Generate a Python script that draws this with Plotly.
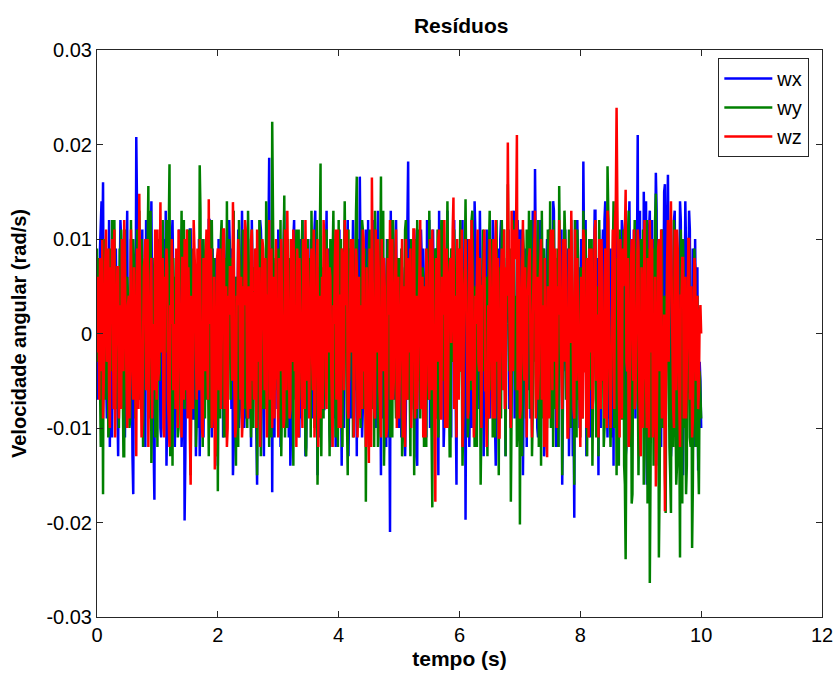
import plotly.graph_objects as go

# sampling interval (s) of the main residual samples; the *_mid lists are
# the samples lying halfway between them
dt = 0.025

# residuals in 1e-3 rad/s
wx_milli = [
    -7, 3, 9, 14, 16, 2, -4, 6, 12, -2, -11, -8, 5, -1, -13, 4, 10, 7, -6, 1,
    13, -5, -9, -12, -17, 4, 20.8, 6, -3, 8, 11, -6, -12, 2, 8, 10, 14, -9, -17.6, -3,
    6, 9, -10, 1, 10, -4, -14, -7, 3, 7, 12, -2, -8, 5, 9, 3, -12, -6, -19.8, -1,
    7, 2, 11, -3, -9, 6, 4, -10, -13, 0, 10, 5, -5, 8, 12, -7, -11, 3, 8, -4,
    -14, -2, 5, 9, 11, -1, -7, 4, 9, -8, -15, -5, 6, 2, -10, 7, 13, 1, -4, -9,
    10, 3, -12, 6, 7, -3, -16, -2, 12, 8, -6, 2, 9, 11, 18.6, -4, -16.8, -7, 5, 9,
    11, -2, -9, 4, 13, 6, -7, -11, -14, 1, 10, 3, 4, -6, -11, 5, 12, -4, -13, -3,
    8, 1, -5, 7, 11, -2, -15, -4, 9, 5, -8, -1, 13, 3, -10, 2, 6, -9, -12, 4,
    10, -3, -14, 0, 4, 9, 12, -6, -9, 2, 7, -5, -13, 8, 16.6, 1, -8, 6, 11, -4,
    -12, 3, 9, -1, -6, 7, 13, -8, -15, 2, 8, 4, 10, -11, -21, -3, 5, 6, 12, -2,
    -10, 1, 7, -4, -13, 5, 18.2, 3, -8, -2, 11, 6, -14, -5, 6, 8, 9, -7, -11, 2,
    12, 4, -7, 1, 8, -9, -15, -3, 11, 5, -9, 2, 13, -2, -6, 9, 10, -8, -16, -1,
    7, 5, 12, -6, -19.7, 0, 9, -3, -10, 4, 14, 7, -8, -1, 6, -7, -13, 3, 11, -2,
    -9, 2, 12, -5, -14, 6, 8, 10, 10, -4, -12, 1, 5, -8, -10, 4, 13, -3, -7, 8,
    11, -2, -15, 3, 9, 6, -6, -9, 12, 4, 17.4, -3, -11, 1, 8, -7, -13, 5, 10, 2,
    -8, 4, 14, -1, -12, -5, 7, 3, -16, 6, 11, 2, 9, -6, -10, -13, -19.5, 5, 12, 7,
    -7, 9, 18.2, -2, -13, 4, 10, -6, -9, 3, 13, 8, -15, -4, 8, 11, 12, -3, -11, 5,
    9, -4, -14, 7, 15, 2, -8, 6, 11, -5, -13, 10, 14, 3, -10, 4, 7, 12, 21, -1,
    -12, 6, 15, -3, -16, 8, 13, 5, -9, 10, 17, -2, -14, 7, 11, 2, 15.8, 9, 16.8, -5,
    -13, 3, 12, -4, -10, 8, 14, -6, -15, 1, 9, 5, 13, -8, -12, 4, 10, -7, -14.5, -3,
    -10,
]
wx_mid_milli = [
    4, -6, 11, 8, -3, 10, -9, 1, -12, 6, 3, -7, 9, -10, 2, 12, -5, 7, -11, 5,
    -8, 2, 10, -13, 6, -4, 9, 11, -7, 3, -10, 5, 12, -2, -9, 7, 1, -12, 8, -6,
    9, -3, -11, 6, 2, 13, -8, 4, -6, 10, -1, -12, 7, -4, 11, 3, -9, 5, -13, 8,
    -5, 11, 1, -9, 7, -13, 4, 10, -2, 6, -11, 8, 3, -7, 12, -4, 9, -10, 2, 6,
    10, -7, 4, -11, 8, 2, -6, 12, -3, 9, -12, 5, -1, 11, -8, 3, 7, -10, 6, -4,
    -9, 6, 12, -3, 1, -10, 8, -5, 11, 4, -13, 7, -2, 10, -6, 9, 3, -11, 5, -8,
    7, -12, 3, 9, -5, 11, -1, 6, -10, 2, 12, -7, 5, -3, 10, -9, 1, 8, -12, 4,
    -6, 10, -9, 2, 13, -4, 7, -11, 5, 1, -8, 11, -3, 9, -12, 6, -2, 10, -7, 3,
    11, -4, 8, -10, 2, 6, -13, 9, -1, 12, -6, 3, 10, -8, 5, -11, 7, 1, -9, 12,
    -3, 9, -7, 12, -10, 4, 6, -2, 11, -9, 3, -12, 8, -5, 13, -1, -7, 10, 2, -6,
    8, -11, 5, 1, -8, 12, -4, 10, -6, 3, 9, -13, 7, -1, 11, -5, 4, -9, 12, -3,
    -10, 3, 11, -6, 9, -2, 13, -8, 4, -12, 6, 10, -4, 8, -11, 2, 12, -7, 5, 9,
    -4, 12, -9, 7, -1, 10, -12, 3, 8, -5, 11, -7, 2, 13, -10, 6, -3, 9, -8, 4,
    6, -2, 10, -11, 4, 9, -7, 12, -3, 8, -13, 5, 11, -6, 1, 10, -9, 3, 12, -5,
    -7, 11, -4, 6, -12, 3, 10, -8, 13, -2, 7, -10, 4, 12, -5, 9, -11, 6, -1, 11,
    5, -9, 13, -3, 8, -12, 2, 11, -6, 10, -4, 7, -13, 9, 1, -8, 12, -2, 6, -10,
    10, -5, 3, 12, -8, 6, -11, 9, -2, 13, -7, 4, 11, -10, 8, -3, 14, -6, 2, -9,
    -11, 7, 13, -4, 10, -8, 5, 12, -1, 9, -12, 6, 14, -7, 3, 11, -9, 8, -5, 13,
    4, -10, 9, 14, -6, 11, -3, 12, -9, 7, 13, -5, 10, -12, 6, 15, -8, 11, -4, 9,
    -11, 6, 13, -7, 9, -3, 12, -10, 5, 14, -8, 3, 11, -6, 9, -12, 4, 7, -9, -5,
]

wy_milli = [
    9, 2, -5, -10, -17, -3, 7, 4, -10, 6, 12, -1, -8, 3, 4, 9, 11, -6, -13, 0,
    6, -4, -9, 3, 10, 5, -6, -2, 13, -7, -11, 1, 5, 9, 15.6, -3, -13.7, 2, 8, -5,
    -12, 4, 10, 1, -7, 6, 12, 9, 17.9, -4, -14, 2, 6, -6, -10, 5, 13, 3, -8, -2,
    11, -5, -15, 1, 7, 4, -9, 8, 17.8, -3, -12, 6, 8, -7, -13, 2, 12, -1, -5, -11,
    -16.7, -4, 10, 3, -11, 5, 14, -2, -7, 8, 9, -6, -14, 1, 12, 4, -9, -3, 6, -8,
    13, 2, -11, 4, 7, -5, -15, -1, 10, 6, -8, 3, 14, -4, -12, 9, 22.4, 1, -6, 5,
    9, -3, -13, 6, 14.6, 2, -10, -4, 8, 5, -14, -2, 11, 3, -7, 7, 12, -5, -12, 1,
    6, 8, 13, -2, -10, -6, -16, 3, 18, 4, -9, -1, 11, 6, -13, -4, 8, 2, -11, 5,
    12, -3, -7, 5, 14, 1, -15, -5, 9, 3, -10, 6, 16.6, -2, -6, 7, 11, -8, -17.8, 0,
    10, 4, -8, 2, 13, -4, -12, 5, 16.6, 1, -14, -6, 7, 3, -11, 8, 12, -2, -9, 6,
    8, -1, -13, 4, 11, 7, -7, -3, 10, 2, -15, -5, 12, 6, -9, 1, 6, -4, -12, 3,
    13, -6, -18.4, -2, 9, 4, -11, 3, 12, -5, -8, 6, 14, 1, -13, -3, 7, 5, -10, 2,
    11, -4, -14, 6, 14.2, -1, -9, 3, 12, 7, -12, -6, 8, 2, -16, -3, 10, 4, -7, 5,
    13, -2, -11, 6, 9, 1, -15, -7, 12, 3, -8, 5, 15.8, -4, -17.8, 2, 10, -6, -12, 4,
    -20.2, -5, 11, 3, -9, 7, 13, -1, -13, -4, 7, 2, 12, -6, -14, 4, 9, -3, -10, 6,
    14, 1, -12, -3, 8, 9, 15.6, -2, -15, 4, 10, -6, -9, 5, 12, -4, -16, 2, 11, -7,
    -11, 3, 13, -2, -8, 6, 10, -5, -14, 4, 12, -1, -13, -6, 9, 2, -10, 7, 17.7, -3,
    -12, 4, 14, -6, -15, 1, 11, -3, -9, -14, -23.9, 5, 13, -7, -18, 2, 12, -4, -14, -8,
    10, -5, -16, 3, 12, -11, -26.4, -2, 9, 6, 14.8, -9, -23.7, 4, 11, -7, -15, 1, 8, -12,
    -19, -3, 12, -8, -14, -6, -23.7, 2, 10, -10, -17, 4, 9, -12, -22.7, -5, 6, -9, -13, -4,
    -9,
]
wy_mid_milli = [
    -3, 8, -12, 5, 10, -7, 2, -11, 9, -4, 6, 12, -8, 1, -10, 7, 3, -13, 11, -6,
    4, -10, 12, -2, 7, -9, 11, 3, -6, 10, -12, 5, -1, 9, -8, 13, -4, 6, -11, 2,
    10, -5, 3, 12, -9, 6, -2, 11, -13, 4, 8, -7, 1, -11, 9, 5, -6, 12, -3, 7,
    -8, 11, -4, 9, 2, -12, 7, -6, 13, -1, 10, -9, 5, -3, 12, -10, 4, 8, -13, 6,
    3, -9, 12, -5, 8, -11, 1, 10, -7, 4, 13, -3, 6, -12, 9, -2, 11, -8, 5, -10,
    7, -4, 11, -10, 2, 9, -6, 12, -13, 5, 3, -8, 10, -1, 6, -11, 13, -5, 8, -2,
    -9, 12, -3, 7, -11, 4, 10, -6, 1, -12, 8, 5, -10, 11, -2, 9, -7, 3, -13, 10,
    6, -11, 2, 9, -5, 12, -8, 4, -13, 7, 11, -3, 1, -9, 10, -6, 13, -2, 5, -12,
    -4, 10, -12, 6, 3, -9, 11, -1, 8, -11, 5, 13, -7, 2, -10, 12, -5, 9, -3, 7,
    11, -7, 4, -12, 9, 1, -10, 6, -3, 13, -8, 2, 10, -6, 12, -11, 3, -4, 8, -9,
    -2, 9, -11, 5, 12, -6, 3, -13, 8, -1, 10, -9, 6, 11, -4, 7, -12, 2, 9, -7,
    5, -12, 8, 1, -9, 11, -5, 10, -3, 12, -10, 4, 7, -13, 9, -2, 11, -8, 3, -6,
    12, -3, -9, 7, 4, -11, 10, -6, 13, -2, 5, -12, 8, 1, -10, 11, -4, 6, -13, 9,
    -6, 10, 2, -11, 12, -4, 7, -9, 3, 11, -13, 6, -1, 9, -8, 12, -5, 4, -10, 8,
    3, -13, 9, -5, 11, 1, -8, 12, -6, 10, -3, 7, -12, 4, 13, -9, 2, -7, 11, -4,
    -10, 6, 12, -8, 3, -12, 9, 5, -4, 13, -7, 1, 11, -10, 6, -2, 12, -11, 8, -5,
    7, -9, 4, 11, -13, 2, -6, 10, -3, 8, -11, 5, 12, -8, 1, -12, 9, -4, 13, -10,
    -5, 12, -10, 3, 8, -14, 6, -9, 11, -16, 4, 10, -12, 2, -17, 7, -6, 9, -15, 3,
    -8, 11, -13, 5, -18, 9, -11, 2, -14, 12, -6, 7, -16, 10, -10, 4, -19, 8, -7, -15,
    6, -12, 9, -16, 3, -10, 11, -18, 5, -8, -14, 7, -11, 2, -16, 9, -12, 4, -17, -6,
]

wz_milli = [
    -2, 5, 8, -4, -9, 3, 11, -1, -6, 7, 10, -8, -11, 2, 7, -5, -8, 9, 12, -3,
    -10, 4, 9, -2, -7, 1, -13, 6, 14.8, -3, -9, 7, 10, -5, -12, 3, 8, -1, -6, 9,
    11, -4, 13.9, 2, -10, 6, 9, -7, -12, 1, 7, -3, -8, 5, 11, -2, -11, 8, 10, -6,
    -9, 3, -16, -4, 12, 6, -7, 1, 10, -8, -11, 4, 8, -2, 14.2, 5, -10, -5, -14.4, 2,
    9, -3, -8, 6, 11, -1, -12, 4, 7, 2, 13.9, -6, -10, 3, 8, -7, -11, 5, 12, -2,
    -9, 1, 10, -5, -7, 8, 11, -3, -12, 2, 9, -6, -8, 4, 12, -1, -10, 6, 7, -4,
    -11, 3, 10, -2, -9, 5, 13, -6, -8, 1, 11, -4, -12, 7, 8, -3, -10, 4, 12, -5,
    -7, 2, 9, -6, -11, 3, 10, -1, -9, 6, 12, -4, -8, 5, 7, -3, -12, 1, 11, -5,
    -10, 4, 9, -2, 12, 6, -8, -3, 10, 1, -11, 5, 7, -6, -9, 3, 11, -4, -12, 2,
    -13.7, 5, 16.5, -3, -9, 4, 10, -6, -11, 2, 8, -5, -10, 6, 12, -1, -7, 3, 11, -4,
    -9, 2, 10, -5, -12, 4, 8, -2, -10, 6, 11, -3, -8, 1, 12, -6, -11, 5, 9, -4,
    -7, 3, 11, -6, -17.8, 2, 10, -1, -9, 5, 12, -4, -10, 6, 8, 3, 14.4, -5, -11, 1,
    9, -3, -12, 4, 10, -2, -8, 6, 12, -5, -9, 1, 11, -4, -10, 5, 8, -6, -12, 3,
    10, -2, -9, 5, 12, -3, -11, 4, 9, -6, -8, 7, 20.2, 1, -10, 3, 11, 8, 21, -4,
    -9, 2, 12, -5, -10, 4, 8, -1, -11, 6, 13, -3, -7, 5, 10, -4, -12, -6, -13.1, 3,
    9, 4, 11, -3, -10, 5, 12, -1, -8, 6, 10, -5, -11, 2, 13, -4, -9, 3, 8, -6,
    -12, 1, 11, -4, -10, 5, 9, -2, -8, 6, 12, -3, -11, 4, 10, -5, -9, 2, 13, -1,
    -10, 3, 8, 12, 23.9, -2, -11, 4, 9, 6, 15.2, -4, -12, 2, 10, -5, -8, 3, 11, -6,
    -13, 2, 9, -4, -10, 5, 12, -2, -11, -7, -16.2, 3, 10, -1, -9, -6, -18.8, 4, 12, 6,
    14, -3, -10, 5, 11, -2, -12, 4, 8, -5, -9, 1, 10, -4, -11, 3, 7, -2, -8, 2,
    0,
]
wz_mid_milli = [
    6, -7, 2, 10, -5, 8, -3, 9, -10, 4, -6, 11, -2, 7, -9, 3, 10, -4, 6, -8,
    3, -9, 11, -5, 7, -1, 9, -8, 5, -11, 2, 8, -6, 10, -4, 6, -9, 1, 11, -7,
    -5, 10, -2, 8, -11, 4, 7, -9, 3, 10, -6, 1, 9, -10, 5, -3, 8, -7, 2, 11,
    7, -11, 4, -8, 10, -2, 9, -6, 3, -10, 8, -4, 11, -7, 1, 9, -5, 6, -12, 8,
    -6, 9, -3, 11, -8, 5, -10, 2, 7, -5, 9, -11, 4, 10, -2, 6, -9, 3, 11, -7,
    5, -8, 11, -4, 9, -10, 3, 7, -6, 10, -2, 8, -11, 4, -7, 9, 1, -9, 10, -5,
    8, -4, 2, -10, 11, -6, 5, -9, 10, -3, 7, -1, 9, -11, 3, -6, 10, -8, 4, 9,
    -9, 6, -3, 11, -7, 8, -12, 4, 2, -8, 10, -5, 9, -2, 6, -10, 3, 8, -7, 11,
    4, -10, 8, -6, 3, 11, -9, 7, -2, 10, -5, 9, -11, 6, 1, -8, 10, -3, 7, -9,
    9, -12, 6, -8, 11, -2, 7, -9, 10, -4, 5, -11, 8, 2, -7, 10, -5, 9, -10, 6,
    -3, 8, -11, 5, 10, -7, 2, 9, -6, 11, -9, 4, -2, 10, -8, 6, 3, -11, 7, -5,
    10, -6, 4, -12, 8, -3, 11, -9, 6, 2, -10, 9, -5, 7, -1, 11, -8, 4, 10, -7,
    -4, 11, -8, 6, 2, -9, 10, -5, 7, -11, 4, 9, -3, 8, -10, 5, 11, -6, 2, -9,
    7, -5, 10, -9, 3, 8, -11, 6, -2, 11, -7, 4, 9, -10, 13, -4, 8, 12, -6, 10,
    -8, 10, -3, 7, -11, 5, 9, -6, 2, 11, -9, 6, -4, 10, -7, 3, 8, -11, 5, -9,
    11, -6, 4, 9, -10, 2, 8, -7, 10, -3, 6, -11, 9, -1, 7, -8, 11, -5, 3, -10,
    6, -9, 10, -4, 8, -11, 3, 9, -7, 11, -5, 2, 10, -8, 6, -3, 9, -10, 12, -6,
    -4, 11, -8, 14, 9, -6, 10, -9, 5, 12, -3, 8, -10, 7, -2, 11, -7, 4, 9, -11,
    7, -10, 12, -5, 8, -11, 3, 10, -8, 6, -12, 9, -4, 11, -7, 2, -10, 8, -3, 10,
    5, -8, 11, -6, 9, -10, 4, 8, -9, 6, -3, 10, -7, 5, -9, 8, -5, 4, -6, 3,
]

series_names = ["wx", "wy", "wz"]
series_colors = ["#0000ff", "#008000", "#ff0000"]

x_ticks = [0, 2, 4, 6, 8, 10, 12]
y_ticks = [-0.03, -0.02, -0.01, 0, 0.01, 0.02, 0.03]
y_tick_text = ["-0.03", "-0.02", "-0.01", "0", "0.01", "0.02", "0.03"]


def merge(main, mid):
    """Combine the on-grid samples and the half-step samples in time order (rad/s)."""
    pts = [(round(i * dt, 4), v) for i, v in enumerate(main)]
    pts += [(round(i * dt + dt / 2, 4), v) for i, v in enumerate(mid)]
    pts.sort(key=lambda p: p[0])
    return [p[0] for p in pts], [p[1] / 1000 for p in pts]


font_family = "Liberation Sans, Arial, sans-serif"

fig = go.Figure()
for name, color, main, mid in zip(series_names, series_colors,
                                  [wx_milli, wy_milli, wz_milli],
                                  [wx_mid_milli, wy_mid_milli, wz_mid_milli]):
    tt, vv = merge(main, mid)
    fig.add_trace(go.Scatter(x=tt, y=vv, mode="lines", name=name,
                             line=dict(color=color, width=2.5)))

axis_common = dict(showgrid=False, zeroline=False, showline=True, linecolor="#262626",
                   linewidth=1, mirror="allticks", ticks="inside", ticklen=6,
                   tickcolor="#262626", automargin=False,
                   tickfont=dict(size=20, color="black", family=font_family))

fig.update_layout(
    width=834, height=675,
    margin=dict(l=97, r=12, t=50, b=58),
    paper_bgcolor="white", plot_bgcolor="white",
    font=dict(family=font_family, color="black"),
    title=dict(text="<b>Resíduos</b>", x=0.553, xanchor="center", y=0.962, yanchor="middle",
               font=dict(size=21, family=font_family)),
    xaxis=dict(range=[0, 12], tickvals=x_ticks,
               title=dict(text="<b>tempo (s)</b>", font=dict(size=21), standoff=6),
               **axis_common),
    yaxis=dict(range=[-0.03, 0.03], tickvals=y_ticks, ticktext=y_tick_text,
               title=dict(text="<b>Velocidade angular (rad/s)</b>", font=dict(size=20), standoff=14),
               **axis_common),
    legend=dict(x=0.857, y=0.986, xanchor="left", yanchor="top",
                bgcolor="white", bordercolor="#262626", borderwidth=1,
                itemwidth=48,
                font=dict(size=20, family=font_family), tracegroupgap=0),
    showlegend=True,
)

fig.write_html("out.html")
